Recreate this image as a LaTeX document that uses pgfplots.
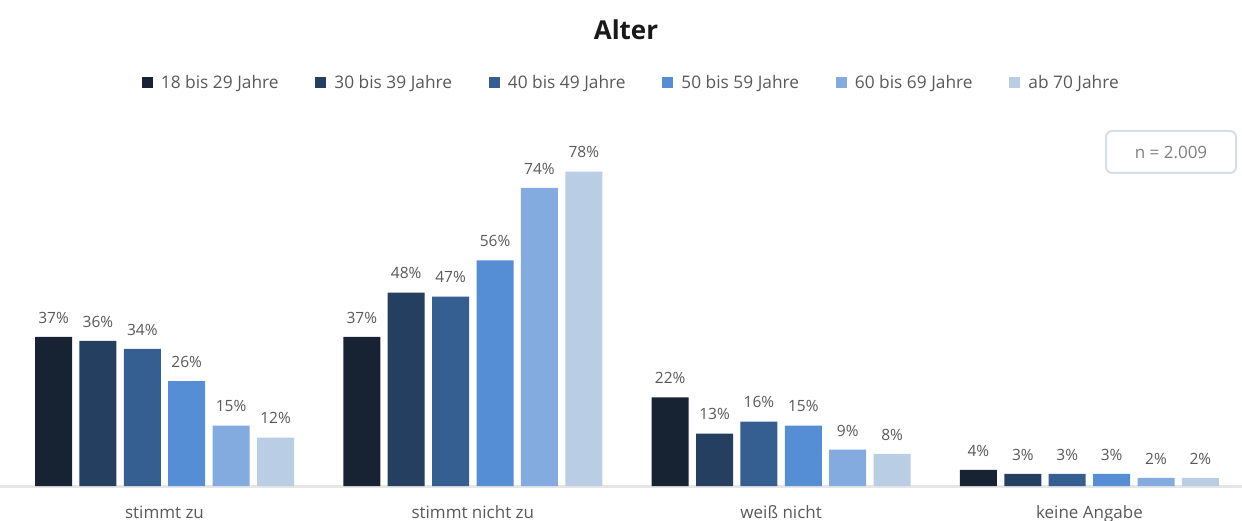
\documentclass[border=0pt]{standalone}
\usepackage{fontspec}
\setmainfont{Open Sans}
\usepackage{pgfplots}
\usepackage{pgfplotstable}
\pgfplotsset{compat=1.18}
\definecolor{cA}{HTML}{172233}
\definecolor{cB}{HTML}{243F5F}
\definecolor{cC}{HTML}{355F91}
\definecolor{cD}{HTML}{558ED5}
\definecolor{cE}{HTML}{83ABDF}
\definecolor{cF}{HTML}{B9CDE5}
\definecolor{txt}{HTML}{595959}
\definecolor{basec}{HTML}{E6E6E6}
\definecolor{boxc}{HTML}{D5DFEB}
\definecolor{ntxt}{HTML}{7F7F7F}

% x: 0 stimmt zu, 1 stimmt nicht zu, 2 weiss nicht, 3 keine Angabe
\pgfplotstableread{
x y
0 37
1 37
2 22
3 4
}\tA
\pgfplotstableread{
x y
0 36
1 48
2 13
3 3
}\tB
\pgfplotstableread{
x y
0 34
1 47
2 16
3 3
}\tC
\pgfplotstableread{
x y
0 26
1 56
2 15
3 3
}\tD
\pgfplotstableread{
x y
0 15
1 74
2 9
3 2
}\tE
\pgfplotstableread{
x y
0 12
1 78
2 8
3 2
}\tF

\begin{document}
\begin{tikzpicture}
\useasboundingbox (0,0) rectangle (1242pt,520pt);
\begin{axis}[
  at={(0pt,34pt)}, anchor=south west,
  scale only axis, width=1242pt, height=362.7pt,
  xmin=-0.5336, xmax=3.495, ymin=0, ymax=90,
  ybar=7.4pt, bar width=37pt,
  axis y line=none, axis x line*=bottom,
  x axis line style={draw=basec, line width=3pt},
  xtick={0,1,2,3},
  xticklabels={stimmt zu, stimmt nicht zu, weiß nicht, keine Angabe},
  major tick length=0pt,
  xticklabel style={font=\fontsize{17}{20}\selectfont, text=txt, text height=13pt, text depth=4pt, yshift=-15.5pt},
  ytick=\empty,
  /pgf/number format/assume math mode=true,
  nodes near coords={\pgfmathprintnumber{\pgfplotspointmeta}\%},
  every node near coord/.append style={font=\fontsize{15.5}{18}\selectfont, text=txt, yshift=10pt},
  clip=false,
  legend columns=6,
  legend style={draw=none, fill=none, at={(0.1143,1.1125)}, anchor=west,
    inner sep=0pt, outer sep=0pt, font=\fontsize{17.3}{20}\selectfont, text=txt,
    nodes={inner sep=0pt},
    /tikz/every odd column/.style={column sep=8pt}},
]
\addplot[fill=cA, draw=none, legend image code/.code={\fill[cA] (0pt,-5.5pt) rectangle (11pt,5.5pt);}] table[x=x,y=y] {\tA};
\addlegendentry{\makebox[154.5pt][l]{18 bis 29 Jahre}}
\addplot[fill=cB, draw=none, legend image code/.code={\fill[cB] (0pt,-5.5pt) rectangle (11pt,5.5pt);}] table[x=x,y=y] {\tB};
\addlegendentry{\makebox[154.5pt][l]{30 bis 39 Jahre}}
\addplot[fill=cC, draw=none, legend image code/.code={\fill[cC] (0pt,-5.5pt) rectangle (11pt,5.5pt);}] table[x=x,y=y] {\tC};
\addlegendentry{\makebox[154.5pt][l]{40 bis 49 Jahre}}
\addplot[fill=cD, draw=none, legend image code/.code={\fill[cD] (0pt,-5.5pt) rectangle (11pt,5.5pt);}] table[x=x,y=y] {\tD};
\addlegendentry{\makebox[154.5pt][l]{50 bis 59 Jahre}}
\addplot[fill=cE, draw=none, legend image code/.code={\fill[cE] (0pt,-5.5pt) rectangle (11pt,5.5pt);}] table[x=x,y=y] {\tE};
\addlegendentry{\makebox[154.5pt][l]{60 bis 69 Jahre}}
\addplot[fill=cF, draw=none, legend image code/.code={\fill[cF] (0pt,-5.5pt) rectangle (11pt,5.5pt);}] table[x=x,y=y] {\tF};
\addlegendentry{\makebox[154.5pt][l]{ab 70 Jahre}}
\end{axis}
\node[font=\fontsize{26}{30}\selectfont\bfseries, text=black!90] at (626pt,490pt) {Alter};
\draw[boxc, line width=2pt, rounded corners=6pt] (1106pt,347pt) rectangle (1236pt,389pt);
\node[font=\fontsize{17}{20}\selectfont, text=ntxt] at (1171pt,368pt) {n = 2.009};
\end{tikzpicture}
\end{document}
